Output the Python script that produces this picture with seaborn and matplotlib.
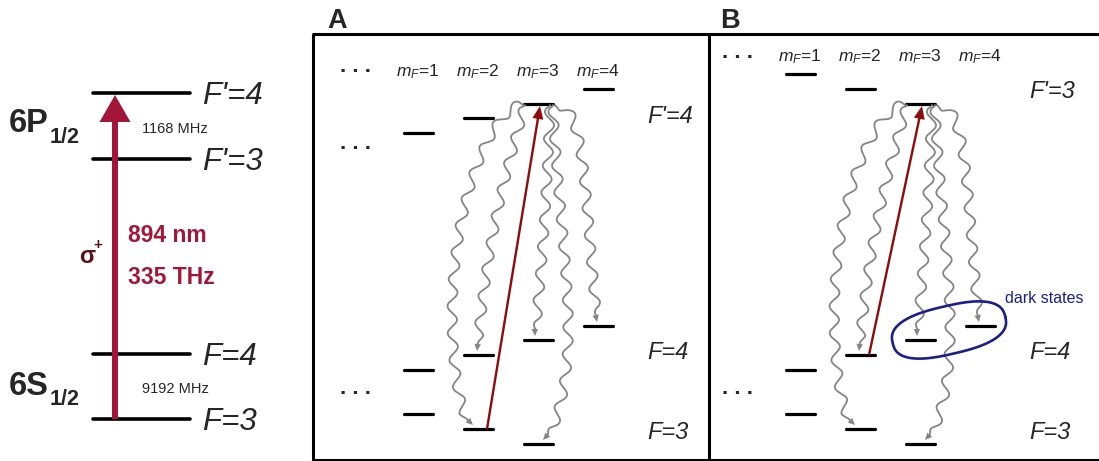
import numpy as np
import pandas as pd
import matplotlib
matplotlib.use("Agg")
import matplotlib.pyplot as plt
import seaborn as sns

sns.set_theme(style="white")
plt.rcParams["font.family"] = ["Liberation Sans", "DejaVu Sans"]
plt.rcParams["mathtext.fontset"] = "custom"
plt.rcParams["mathtext.rm"] = "Liberation Sans"
plt.rcParams["mathtext.it"] = "Liberation Sans:italic"
plt.rcParams["mathtext.bf"] = "Liberation Sans:bold"

# ---------------- data ----------------
# Cs D1 line overview (diagram height, measured downward from the top)
overview_labels = ["F'=4", "F'=3", "F=4", "F=3"]
overview_heights = [93, 159, 354, 419]
excited_term, ground_term = "6P", "6S"
excited_split, ground_split = "1168 MHz", "9192 MHz"
laser_wavelength, laser_frequency = "894 nm", "335 THz"

# Zeeman sublevels (diagram height per m_F)
mf_upper_A = [1, 2, 3, 4]
upper_A = [133, 118, 104, 89]          # F'=4
mf_upper_B = [1, 2, 3]
upper_B = [74, 89, 104]                # F'=3
mf_F4 = [1, 2, 3, 4]
lower_F4 = [370, 355, 340, 326]        # F=4
mf_F3 = [1, 2, 3]
lower_F3 = [414, 429, 444]             # F=3
mf_labels = ["1", "2", "3", "4"]

# spontaneous decay channels out of the excited m_F=3 state
decay_targets = [("F=3", 2), ("F=4", 2), ("F=4", 3), ("F=3", 3), ("F=4", 4)]
# optical pumping transition (lower state -> excited m_F=3)
pump_A = ("F=3", 2)
pump_B = ("F=4", 2)
dark_states_B = [3, 4]                 # F=4 sublevels that stay dark

# ---------------- drawing helpers ----------------
fig = plt.figure(figsize=(10.99, 4.61), dpi=100)
ax = fig.add_axes([0, 0, 1, 1])

BLACK = "#000000"
GREY = "#858585"
CRIMSON = "#a31639"
DARKRED = "#8e0c0c"
NAVY = "#1b1f8c"

COL_W = 60.0      # horizontal spacing of m_F columns
HALF = 14.5       # half length of a sublevel bar
panel_x0 = {"A": 358.0, "B": 740.0}


def col_x(panel, mf):
    return panel_x0[panel] + COL_W * mf


def level_y(manifold, mf, panel):
    if manifold == "F=4":
        return lower_F4[mf_F4.index(mf)]
    if manifold == "F=3":
        return lower_F3[mf_F3.index(mf)]
    if panel == "A":
        return upper_A[mf_upper_A.index(mf)]
    return upper_B[mf_upper_B.index(mf)]


def wavy(x0, y0, x1, y1, bow, p, q, amp=4.8, lam=27.0, color=GREY):
    """Wavy photon line from (x0, y0) to (x1, y1) with a bowed centre line."""
    t = np.linspace(0, 1, 1500)
    xc = x0 + (x1 - x0) * t + bow * np.sin(np.pi * t ** p) ** q
    yc = y0 + (y1 - y0) * t
    seg = np.hypot(np.diff(xc), np.diff(yc))
    s = np.concatenate([[0], np.cumsum(seg)])
    L = s[-1]
    tx, ty = np.gradient(xc), np.gradient(yc)
    nrm = np.hypot(tx, ty)
    nx, ny = -ty / nrm, tx / nrm
    taper = np.clip(s / 3.0, 0, 1) * np.clip((L - s - 6) / 10.0, 0, 1)
    w = amp * np.sin(2 * np.pi * s / lam) * taper
    x = xc + w * nx
    y = yc + w * ny
    keep = s <= L - 5
    ax.plot(x[keep], y[keep], color=color, lw=1.3, solid_capstyle="round", zorder=2)
    k = np.searchsorted(s, L - 8)
    ax.arrow(x[k], y[k], x[-1] - x[k], y[-1] - y[k], width=0.9, head_width=6.5,
             head_length=7, length_includes_head=True, color=color, lw=0, zorder=2)


# ---------------- level bars (seaborn) ----------------
rows = []
lid = 0
for lbl, h in zip(overview_labels, overview_heights):
    rows += [dict(level=lid, x=93, y=h, kind="overview"), dict(level=lid, x=190, y=h, kind="overview")]
    lid += 1
for panel, mfs, ups in [("A", mf_upper_A, upper_A), ("B", mf_upper_B, upper_B)]:
    for mf, h in zip(mfs, ups):
        xc = col_x(panel, mf)
        rows += [dict(level=lid, x=xc - HALF, y=h, kind="zeeman"), dict(level=lid, x=xc + HALF, y=h, kind="zeeman")]
        lid += 1
    for mfs_g, hs in [(mf_F4, lower_F4), (mf_F3, lower_F3)]:
        for mf, h in zip(mfs_g, hs):
            xc = col_x(panel, mf)
            rows += [dict(level=lid, x=xc - HALF, y=h, kind="zeeman"), dict(level=lid, x=xc + HALF, y=h, kind="zeeman")]
            lid += 1
levels = pd.DataFrame(rows)
sns.lineplot(data=levels[levels.kind == "overview"], x="x", y="y", units="level", estimator=None,
             sort=False, color=BLACK, lw=2.6, ax=ax, legend=False)
sns.lineplot(data=levels[levels.kind == "zeeman"], x="x", y="y", units="level", estimator=None,
             sort=False, color=BLACK, lw=2.3, ax=ax, legend=False)

# ---------------- overview (left) ----------------
for lbl, h in zip(overview_labels, overview_heights):
    ax.text(202, h + 11, lbl, fontsize=22.5, style="italic", ha="left", va="baseline")
ax.arrow(115, overview_heights[3], 0, overview_heights[0] + 2 - overview_heights[3], width=6,
         head_width=31, head_length=27, length_includes_head=True, color=CRIMSON, lw=0, zorder=3)
ax.text(9, 132, excited_term, fontsize=23.5, fontweight="bold", va="baseline")
ax.text(50, 143, "1/2", fontsize=15.5, fontweight="bold", va="baseline")
ax.text(9, 395, ground_term, fontsize=23.5, fontweight="bold", va="baseline")
ax.text(50, 405, "1/2", fontsize=15.5, fontweight="bold", va="baseline")
ax.text(142, 133, excited_split, fontsize=10.5, va="baseline")
ax.text(142, 393, ground_split, fontsize=10.5, va="baseline")
ax.text(128, 242, laser_wavelength, fontsize=16.5, fontweight="bold", color=CRIMSON, va="baseline")
ax.text(128, 284, laser_frequency, fontsize=16.5, fontweight="bold", color=CRIMSON, va="baseline")
ax.text(79, 263, "σ", fontsize=17, fontweight="bold", color="#5c1016", va="baseline")
ax.text(93, 249, "+", fontsize=11, fontweight="bold", color="#5c1016", va="baseline")

# ---------------- panel frames ----------------
fkw = dict(color=BLACK, lw=2.2, solid_capstyle="butt")
ax.plot([313, 313], [34, 461], **fkw)
ax.plot([709, 709], [34, 461], **fkw)
ax.plot([312, 1099], [34, 34], **fkw)
ax.plot([312, 1099], [459.5, 459.5], **fkw)
ax.text(327, 28, "A", fontsize=19.5, fontweight="bold", va="baseline")
ax.text(720, 28, "B", fontsize=19.5, fontweight="bold", va="baseline")

# ---------------- Zeeman panels ----------------
panel_cfg = {
    "A": dict(label_base=76, dots=[70, 147, 392], upper="F'=4", upper_base=123, pump=pump_A),
    "B": dict(label_base=61, dots=[57, 392], upper="F'=3", upper_base=98, pump=pump_B),
}
# per decay line: start offset on the excited bar, end offset on the target bar,
# bow of the centre line and its shape exponents
wave_start = [-15, -13, 12, 15, 17]
wave_end = [-5, -1, -3, 5, -1]
wave_bow = [-44, -7, 2, 22, 17]
wave_p = [0.8, 1.0, 1.0, 2.0, 0.4]
wave_q = [0.6, 1.0, 1.0, 0.6, 1.0]

for panel, cfg in panel_cfg.items():
    for mf, lab in zip([1, 2, 3, 4], mf_labels):
        ax.text(col_x(panel, mf), cfg["label_base"], r"$m_F$=" + lab, fontsize=12.5,
                ha="center", va="baseline")
    for dy in cfg["dots"]:
        ax.text(col_x(panel, 0) - 2, dy + 1.5, ". . .", fontsize=16, fontweight="bold",
                ha="center", va="baseline")
    tx = panel_x0[panel] + 289
    ax.text(tx, cfg["upper_base"], cfg["upper"], fontsize=17, style="italic", va="baseline")
    ax.text(tx, 359, "F=4", fontsize=17, style="italic", va="baseline")
    ax.text(tx, 439, "F=3", fontsize=17, style="italic", va="baseline")

    top_x = col_x(panel, 3)
    top_y = level_y("up", 3, panel)
    for (man, mf), sx, ex, bow, p, q in zip(decay_targets, wave_start, wave_end, wave_bow, wave_p, wave_q):
        wavy(top_x + sx, top_y + 1, col_x(panel, mf) + ex, level_y(man, mf, panel) - 4, bow, p, q)

    pman, pmf = cfg["pump"]
    bx, by = col_x(panel, pmf) + 9, level_y(pman, pmf, panel)
    ex_, ey_ = top_x + 2, top_y + 2
    ax.arrow(bx, by, ex_ - bx, ey_ - by, width=2.4, head_width=11, head_length=13,
             length_includes_head=True, color=DARKRED, lw=0, zorder=3)

# dark-state outline around the F=4 sublevels that are not pumped
p1 = np.array([col_x("B", dark_states_B[0]), level_y("F=4", dark_states_B[0], "B")])
p2 = np.array([col_x("B", dark_states_B[1]), level_y("F=4", dark_states_B[1], "B")])
cen = (p1 + p2) / 2 + np.array([-1, -3])
phi = np.arctan2(p2[1] - p1[1], p2[0] - p1[0])
a = np.hypot(*(p2 - p1)) / 2 + 27
b = 24
th = np.linspace(0, 2 * np.pi, 400)
ex = 2.6
px = a * np.sign(np.cos(th)) * np.abs(np.cos(th)) ** (2 / ex)
py = b * np.sign(np.sin(th)) * np.abs(np.sin(th)) ** (2 / ex)
bx_ = cen[0] + px * np.cos(phi) - py * np.sin(phi)
by_ = cen[1] + px * np.sin(phi) + py * np.cos(phi)
ax.plot(bx_, by_, color=NAVY, lw=1.9, zorder=4)
ax.text(1005, 303, "dark states", fontsize=11.5, color=NAVY, va="baseline")

ax.set_xlim(0, 1099)
ax.set_ylim(461, 0)
ax.axis("off")
fig.savefig("out.png", dpi=100)
